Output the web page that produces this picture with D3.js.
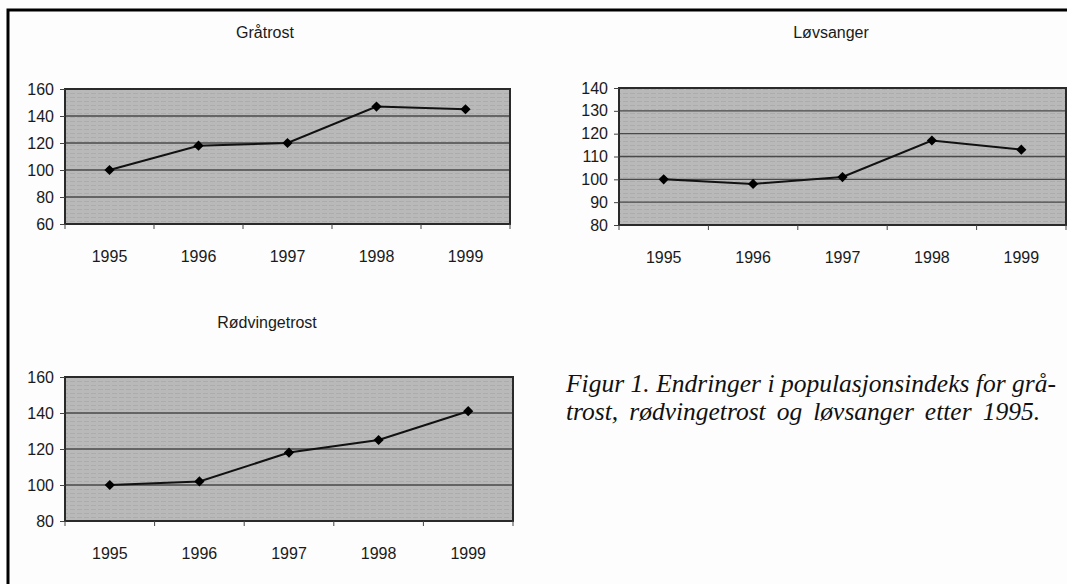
<!DOCTYPE html>
<html>
<head>
<meta charset="utf-8">
<script src="https://cdn.jsdelivr.net/npm/d3@7"></script>
<style>
  body { margin: 0; background: #fdfdfd; }
  svg { display: block; }
  .lbl { font-family: "Liberation Sans", Arial, sans-serif; font-size: 16px; fill: #1a1a1a; }
  .cap { font-family: "Liberation Serif", "Times New Roman", serif; font-style: italic; font-size: 25.5px; fill: #111; }
</style>
</head>
<body>
<script>
// index values, 1995 = 100
var years = ["1995", "1996", "1997", "1998", "1999"];
var graatrost = [100, 118, 120, 147, 145];
var lovsanger = [100, 98, 101, 117, 113];
var rodvingetrost = [100, 102, 118, 125, 141];

var graatrostTicks = [60, 80, 100, 120, 140, 160];
var lovsangerTicks = [80, 90, 100, 110, 120, 130, 140];
var rodvingetrostTicks = [80, 100, 120, 140, 160];

var captionLines = [
  "Figur 1. Endringer i populasjonsindeks for grå-",
  "trost, rødvingetrost og løvsanger etter 1995."
];

var W = 1067, H = 584;
var svg = d3.select("body").append("svg").attr("width", W).attr("height", H);

// scan paper + frame
svg.append("rect").attr("width", W).attr("height", H).attr("fill", "#fdfdfd");
svg.append("path")
  .attr("d", "M8," + H + "V10H" + W)
  .attr("fill", "none").attr("stroke", "#000").attr("stroke-width", 3);

// faint streak texture like the scanned grey fill
var defs = svg.append("defs");
var pat = defs.append("pattern").attr("id", "streak")
  .attr("width", 7).attr("height", 4).attr("patternUnits", "userSpaceOnUse");
pat.append("rect").attr("width", 7).attr("height", 4).attr("fill", "#b9b9b9");
pat.append("line").attr("x1", 0).attr("x2", 5).attr("y1", 1.5).attr("y2", 1.5)
  .attr("stroke", "#acacac").attr("stroke-width", 1);

function panel(title, values, ticks, box, titlePos) {
  var g = svg.append("g");
  var x = d3.scaleBand().domain(years).range([box.x0, box.x1]);
  var y = d3.scaleLinear().domain([ticks[0], ticks[ticks.length - 1]]).range([box.y1, box.y0]);

  g.append("rect")
    .attr("x", box.x0).attr("y", box.y0)
    .attr("width", box.x1 - box.x0).attr("height", box.y1 - box.y0)
    .attr("fill", "url(#streak)");

  // gridlines
  g.selectAll(".grid").data(ticks.slice(1, -1)).enter().append("line")
    .attr("x1", box.x0).attr("x2", box.x1)
    .attr("y1", function(d){ return y(d); }).attr("y2", function(d){ return y(d); })
    .attr("stroke", "#4a4a4a").attr("stroke-width", 1.3);

  g.append("rect")
    .attr("x", box.x0).attr("y", box.y0)
    .attr("width", box.x1 - box.x0).attr("height", box.y1 - box.y0)
    .attr("fill", "none").attr("stroke", "#2a2a2a").attr("stroke-width", 2);

  // y axis
  var ya = g.append("g").attr("transform", "translate(" + box.x0 + ",0)")
    .call(d3.axisLeft(y).tickValues(ticks).tickSize(5).tickPadding(6));
  ya.select(".domain").remove();
  ya.selectAll("line").attr("stroke", "#444");
  ya.selectAll("text").attr("class", "lbl").attr("font-size", null).attr("font-family", null).attr("fill", null);

  // x axis: ticks on band edges, labels centred
  var edges = years.map(function(d){ return x(d); }).concat([box.x1]);
  g.selectAll(".xt").data(edges).enter().append("line")
    .attr("x1", function(d){ return d; }).attr("x2", function(d){ return d; })
    .attr("y1", box.y1).attr("y2", box.y1 + 5)
    .attr("stroke", "#444").attr("stroke-width", 1);
  g.selectAll(".xl").data(years).enter().append("text")
    .attr("class", "lbl")
    .attr("x", function(d){ return x(d) + x.bandwidth() / 2; })
    .attr("y", box.y1 + 32).attr("dy", "0.35em")
    .attr("text-anchor", "middle")
    .text(function(d){ return d; });

  var pts = values.map(function(v, i){ return [x(years[i]) + x.bandwidth() / 2, y(v)]; });
  g.append("path")
    .attr("d", d3.line()(pts))
    .attr("fill", "none").attr("stroke", "#111").attr("stroke-width", 2);
  g.selectAll(".mk").data(pts).enter().append("path")
    .attr("d", d3.symbol().type(d3.symbolSquare).size(52))
    .attr("transform", function(p){ return "translate(" + p[0] + "," + p[1] + ") rotate(45)"; })
    .attr("fill", "#000");

  g.append("text").attr("class", "lbl")
    .attr("x", titlePos[0]).attr("y", titlePos[1]).attr("dy", "0.35em")
    .attr("text-anchor", "middle")
    .text(title);
}

panel("Gråtrost", graatrost, graatrostTicks, {x0: 65, x1: 510, y0: 89, y1: 224}, [265, 32]);
panel("Løvsanger", lovsanger, lovsangerTicks, {x0: 619, x1: 1066, y0: 88, y1: 225}, [831, 32]);
panel("Rødvingetrost", rodvingetrost, rodvingetrostTicks, {x0: 65, x1: 513, y0: 377, y1: 521}, [267, 322]);

// caption, justified like the printed figure text (stretch word gaps only)
var capRight = [1056, 1040];
svg.selectAll(".cap").data(captionLines).enter().append("text")
  .attr("class", "cap")
  .attr("x", 566)
  .attr("y", function(d, i){ return 392 + i * 28; })
  .text(function(d){ return d; })
  .each(function(d, i){
    var natural = this.getComputedTextLength();
    var gaps = d.split(" ").length - 1;
    var extra = (capRight[i] - 566 - natural) / gaps;
    d3.select(this).attr("word-spacing", extra.toFixed(2));
  });
</script>
</body>
</html>
